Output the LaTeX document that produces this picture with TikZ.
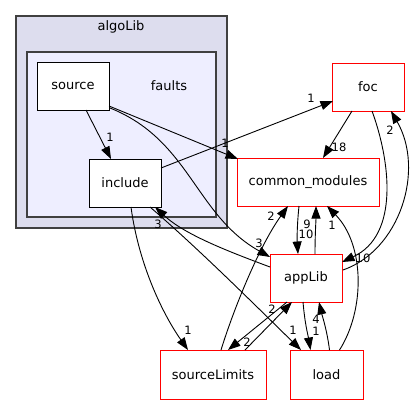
\documentclass[tikz,border=0pt]{standalone}
\usepackage{fontspec}
\setmainfont{DejaVu Sans}
\usetikzlibrary{arrows.meta, positioning, calc}

\definecolor{outerfill}{HTML}{DDDDEE}
\definecolor{innerfill}{HTML}{EEEEFF}
\definecolor{clusterline}{HTML}{404040}

\begin{document}
\begin{tikzpicture}[
    x=1pt, y=-1pt,
    dirbox/.style={rectangle, draw=black, fill=white, line width=0.9pt, inner sep=0pt, outer sep=0pt, minimum width=72pt, minimum height=48pt, align=center, font=\fontsize{13}{15}\selectfont},
    extbox/.style={dirbox, draw=red},
    cluster/.style={draw=clusterline, line width=1.2pt},
    lbl/.style={inner sep=0pt, font=\fontsize{11.5}{13}\selectfont},
    dep/.style={-{Triangle[length=12.5pt,width=9pt]}, line width=0.9pt}
]
\useasboundingbox (0,0) rectangle (419,404);

% ==== Clusters ====
\draw[cluster, fill=outerfill] (16,16) rectangle (227,228);
\node[font=\fontsize{13}{15}\selectfont] (algolabel) at (121,27) {algoLib};
\draw[cluster, fill=innerfill] (27,52) rectangle (216,217);
\node[font=\fontsize{13}{15}\selectfont] (faultslabel) at (169,86) {faults};

% ==== Directories ====
\node[dirbox] (source) at (73,86) {source};
\node[dirbox] (include) at (125,183) {include};
\node[extbox] (foc) at (368,87) {foc};
\node[extbox, minimum width=142pt] (common) at (308,182) {common\_modules};
\node[extbox] (applib) at (306,278) {appLib};
\node[extbox, minimum width=106pt, minimum height=49pt] (srclimits) at (213,374.5) {sourceLimits};
\node[extbox, minimum width=73pt, minimum height=49pt] (load) at (326.5,374.5) {load};

% ==== Relations ====
\draw[dep] ($(source.south)+(13,0)$) -- ($(include.north)+(-14,0)$) node[lbl] at (110,137) {1};
\draw[dep] ($(source.east)+(0,20)$) -- ($(common.north west)+(1,1)$) node[lbl] at (225,143) {1};
\draw[dep] ($(source.south east)+(1,-2)$) .. controls (190,140) and (195,215) .. ($(applib.north west)+(0,3)$) node[lbl] at (259,243) {3};
\draw[dep] ($(include.east)+(0,-15)$) -- ($(foc.west)+(1,14)$) node[lbl] at (311,98) {1};
\draw[dep] ($(include.south)+(6,0)$) .. controls (138,260) and (160,310) .. ($(srclimits.north)+(-25,0)$) node[lbl] at (188,330) {1};
\draw[dep] ($(include.south)+(25,0)$) .. controls (200,250) and (260,310) .. ($(load.north west)+(11,0)$) node[lbl] at (293,330) {1};
\draw[dep] ($(applib.west)+(0,-11)$) .. controls (230,252) and (185,235) .. ($(include.south)+(30,0)$) node[lbl] at (158,224) {3};
\draw[dep] ($(foc.south)+(-16,0)$) -- ($(common.north)+(15,0)$) node[lbl] at (339,147) {18};
\draw[dep] ($(foc.south)+(4,0)$) .. controls (390,160) and (400,235) .. ($(applib.east)+(0,-16)$) node[lbl] at (363,258) {10};
\draw[dep] ($(applib.east)+(1,-8)$) .. controls (400,250) and (425,170) .. ($(foc.south)+(23,0)$) node[lbl] at (390,130) {2};
\draw[dep] ($(common.south)+(-9,0)$) .. controls (297,225) and (297,240) .. ($(applib.north)+(-8,0)$) node[lbl] at (306,234) {10};
\draw[dep] ($(applib.north)+(9,0)$) .. controls (315,235) and (316,220) .. ($(common.south)+(8,0)$) node[lbl] at (307,224) {9};
\draw[dep] ($(load.north)+(13,0)$) .. controls (365,310) and (365,245) .. ($(common.south)+(19,0)$) node[lbl] at (332,225) {1};
\draw[dep] ($(srclimits.north)+(8,0)$) .. controls (235,305) and (260,245) .. ($(common.south)+(-20,0)$) node[lbl] at (271,216) {2};
\draw[dep] ($(applib.south)+(-19,0)$) -- ($(srclimits.north)+(15,0)$) node[lbl] at (272,309) {2};
\draw[dep] ($(srclimits.north)+(32,0)$) -- ($(applib.south)+(-14,0)$) node[lbl] at (247,342) {2};
\draw[dep] ($(applib.south)+(-3,0)$) .. controls (305,325) and (308,335) .. ($(load.north)+(-16,0)$) node[lbl] at (316,331) {1};
\draw[dep] ($(load.north)+(3,0)$) .. controls (327,330) and (322,315) .. ($(applib.south)+(13,0)$) node[lbl] at (316,319) {4};

\end{tikzpicture}
\end{document}
